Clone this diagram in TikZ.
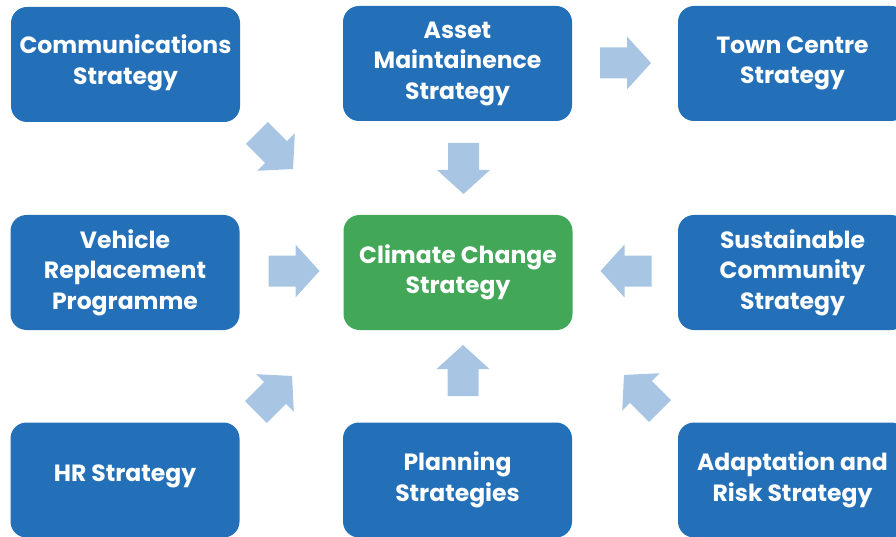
\documentclass[tikz,border=0pt]{standalone}
\usepackage{fontspec}
\setmainfont{Poppins}[BoldFont={* Bold}]
\definecolor{boxblue}{HTML}{2470B8}
\definecolor{boxgreen}{HTML}{42A858}
\definecolor{arrowblue}{HTML}{A8C6E4}
\tikzset{
  stratbox/.style={rectangle, rounded corners=16pt, fill=boxblue, text=white,
    minimum width=229pt, minimum height=115pt, align=center, inner sep=0pt,
    font=\fontsize{23.5}{30.5}\selectfont\bfseries},
  centrebox/.style={stratbox, fill=boxgreen},
  blockarrow/.style={fill=arrowblue}
}
\newcommand\blkarrow[3]{%
  \fill[blockarrow, shift={(#1,#2)}, rotate=#3]
    (-25.5,-15.5) -- (1.5,-15.5) -- (1.5,-26.5) -- (25.5,0) -- (1.5,26.5)
    -- (1.5,15.5) -- (-25.5,15.5) -- cycle;}
\newcommand\lift[1]{\rule[-#1]{0pt}{0pt}}
\begin{document}
\begin{tikzpicture}[x=1pt,y=-1pt]
\useasboundingbox (0,0) rectangle (896,537);
\clip (0,0) rectangle (896,537);
\node[stratbox] (comms) at (125.5,64.5) {Communications\\Strategy\lift{10pt}};
\node[stratbox] (asset) at (457.5,63.5) {Asset\\Maintainence\\Strategy};
\node[stratbox] (town) at (792.5,63.5) {Town Centre\\Strategy};
\node[stratbox] (vehicle) at (125,272.5) {Vehicle\\Replacement\\Programme};
\node[centrebox] (climate) at (458,272.5) {Climate Change\\Strategy};
\node[stratbox] (sust) at (792.5,272.5) {Sustainable\\Community\\Strategy};
\node[stratbox] (hr) at (125,480) {HR Strategy\lift{14pt}};
\node[stratbox] (plan) at (457.5,480) {Planning\\Strategies};
\node[stratbox] (adapt) at (792.5,480) {Adaptation and\\Risk Strategy};
\blkarrow{463.5}{168.5}{-90}
\blkarrow{294}{271}{0}
\blkarrow{626}{271}{180}
\blkarrow{463}{370.5}{90}
\blkarrow{625.5}{63}{0}
\blkarrow{275}{151}{-45}
\blkarrow{274}{394}{45}
\blkarrow{642}{393}{135}
\end{tikzpicture}
\end{document}
